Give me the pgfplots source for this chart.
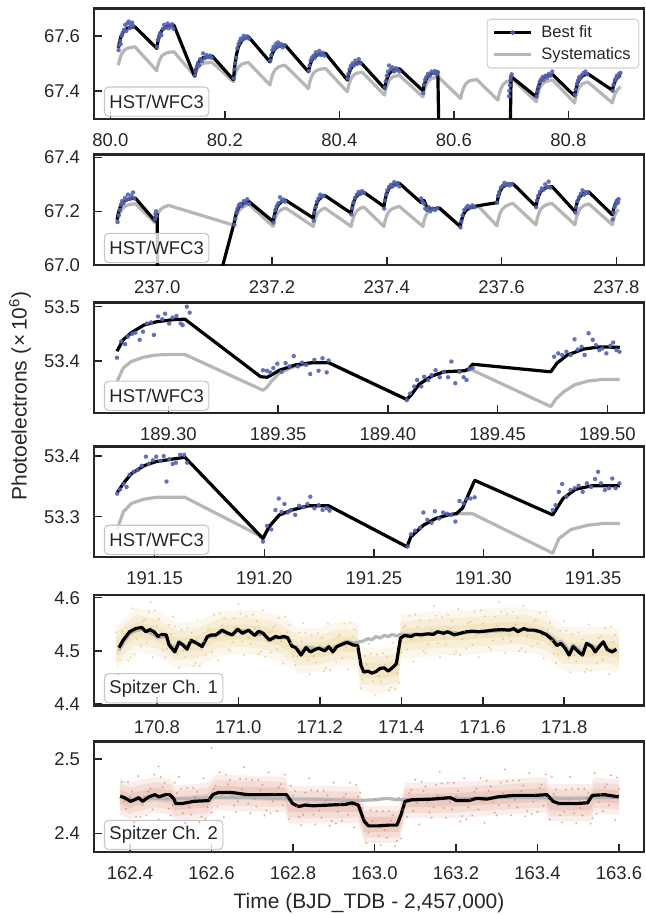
\documentclass[border=0pt]{standalone}
\usepackage{fontspec}
\setmainfont{Liberation Sans}
\usepackage{pgfplots}
\pgfplotsset{compat=1.18}
\definecolor{axcol}{RGB}{38,38,38}
\definecolor{hstblue}{RGB}{84,98,178}
\definecolor{sysgray}{RGB}{182,182,182}
\definecolor{ch1col}{RGB}{226,190,108}
\definecolor{ch2col}{RGB}{208,118,88}
\newcommand{\tickfont}{\fontsize{13.3}{16}\selectfont}
\newcommand{\labfont}{\fontsize{15.1}{18}\selectfont}
\newcommand{\legfont}{\fontsize{11.9}{14}\selectfont}
\pgfplotsset{
  panel/.style={
    scale only axis, width=396.1pt, height=79.56pt, anchor=north west,
    axis line style={line width=1.8pt, color=axcol, line cap=rect},
    tick align=inside, major tick length=5.8pt,
    every tick/.style={line width=1.1pt, color=axcol},
    xtick pos=bottom, ytick pos=left,
    tick label style={font=\tickfont, text=axcol},
    xticklabel style={yshift=-7.2pt},
    yticklabel style={xshift=-6.4pt},
    scaled ticks=false, minor tick num=0,
  },
  fit/.style={black, line width=2.3pt, line join=round},
  sys/.style={sysgray, line width=2.3pt, line join=round},
  hstpts/.style={only marks, mark=*, mark size=1.6pt, color=hstblue, mark options={draw opacity=0, fill opacity=0.9}},
  ch1pts/.style={only marks, mark=*, mark size=0.8pt, color=ch1col, mark options={draw opacity=0, fill opacity=0.7}},
  ch2pts/.style={only marks, mark=*, mark size=0.8pt, color=ch2col, mark options={draw opacity=0, fill opacity=0.6}},
}
\tikzset{lab/.style={anchor=south west, draw=gray!45, line width=0.8pt, rounded corners=3pt, fill=white, fill opacity=0.8, text opacity=1, inner xsep=3.6pt, inner ysep=0pt, minimum height=21pt, font=\tickfont, text=axcol, xshift=7.3pt, yshift=1.5pt}}
\begin{document}
\begin{tikzpicture}
\path[use as bounding box] (0,0) rectangle (464.4pt,658.8pt);
% ---------------- Panel 1
\begin{axis}[panel, at={(67.5pt,652.8pt)}, xmin=79.971, xmax=80.932, ymin=67.298, ymax=67.70,
  xtick={80.0,80.2,80.4,80.6,80.8}, xticklabels={80.0,80.2,80.4,80.6,80.8},
  ytick={67.4,67.6}, yticklabels={67.4,67.6},
  legend style={at={(1,1)}, anchor=north east, xshift=-3.2pt, yshift=-7.5pt, draw=gray!35, line width=0.8pt, rounded corners=2.5pt, fill=white, fill opacity=0.8, text opacity=1, draw opacity=1, font=\legfont, text=axcol, inner xsep=4pt, inner ysep=2.5pt, row sep=1.8pt, /tikz/every odd column/.append style={column sep=4.4pt}},
  legend cell align=left]
\addlegendimage{legend image code/.code={\draw[black, line width=2.3pt] (0pt,0pt) -- (26.4pt,0pt); \fill[hstblue] (13.2pt,0pt) circle (1.3pt);}}
\addlegendentry{Best fit}
\addlegendimage{legend image code/.code={\draw[sysgray, line width=2.3pt] (0pt,0pt) -- (26.4pt,0pt);}}
\addlegendentry{Systematics}
\addplot[sys, forget plot] coordinates {
(80.014,67.493)(80.016,67.512)(80.019,67.531)(80.023,67.545)(80.029,67.554)(80.036,67.558)(80.043,67.560)
(80.081,67.473)(80.083,67.493)(80.086,67.512)(80.090,67.527)(80.096,67.536)(80.103,67.540)(80.111,67.542)
(80.147,67.455)(80.149,67.468)(80.152,67.481)(80.156,67.492)(80.162,67.499)(80.169,67.502)(80.178,67.503)
(80.215,67.433)(80.217,67.453)(80.220,67.472)(80.224,67.487)(80.230,67.497)(80.236,67.501)(80.241,67.503)
(80.279,67.421)(80.281,67.442)(80.284,67.462)(80.288,67.477)(80.294,67.487)(80.300,67.491)(80.305,67.493)
(80.346,67.408)(80.348,67.429)(80.351,67.449)(80.355,67.465)(80.361,67.475)(80.368,67.479)(80.376,67.481)
(80.414,67.396)(80.416,67.417)(80.419,67.437)(80.423,67.453)(80.429,67.463)(80.440,67.468)
(80.479,67.384)(80.481,67.405)(80.484,67.425)(80.488,67.441)(80.494,67.451)(80.505,67.456)
(80.546,67.378)(80.548,67.399)(80.551,67.419)(80.555,67.435)(80.561,67.445)(80.573,67.450)
(80.612,67.372)(80.614,67.392)(80.617,67.411)(80.621,67.426)(80.627,67.436)(80.640,67.441)
(80.677,67.366)(80.679,67.387)(80.682,67.407)(80.686,67.423)(80.692,67.433)(80.705,67.438)
(80.744,67.360)(80.746,67.383)(80.749,67.405)(80.753,67.421)(80.759,67.432)(80.766,67.437)(80.773,67.439)
(80.811,67.356)(80.813,67.378)(80.816,67.400)(80.820,67.416)(80.826,67.427)(80.834,67.432)
(80.877,67.356)(80.879,67.373)(80.882,67.390)(80.886,67.404)(80.891,67.415)
};
\addplot[fit, forget plot] coordinates {
(80.014,67.556)(80.016,67.578)(80.019,67.600)(80.023,67.616)(80.029,67.627)(80.036,67.631)(80.043,67.633)
(80.081,67.554)(80.083,67.578)(80.086,67.602)(80.090,67.620)(80.096,67.632)(80.103,67.637)(80.111,67.639)
(80.147,67.453)(80.149,67.474)(80.152,67.494)(80.156,67.510)(80.162,67.520)(80.169,67.524)(80.178,67.526)
(80.215,67.440)(80.217,67.485)(80.220,67.529)(80.224,67.562)(80.230,67.584)(80.236,67.593)(80.241,67.597)
(80.279,67.505)(80.281,67.523)(80.284,67.540)(80.288,67.553)(80.294,67.562)(80.300,67.565)(80.305,67.567)
(80.346,67.469)(80.348,67.488)(80.351,67.507)(80.355,67.521)(80.361,67.530)(80.368,67.534)(80.376,67.536)
(80.414,67.439)(80.416,67.458)(80.419,67.476)(80.423,67.490)(80.429,67.499)(80.437,67.504)
(80.479,67.408)(80.481,67.429)(80.484,67.449)(80.488,67.465)(80.494,67.475)(80.505,67.480)
(80.546,67.400)(80.548,67.420)(80.551,67.439)(80.555,67.454)(80.561,67.463)(80.572,67.468)
(80.577,66.900)(80.696,66.900)(80.700,67.452)
(80.744,67.378)(80.746,67.401)(80.749,67.423)(80.753,67.440)(80.759,67.451)(80.766,67.456)(80.773,67.458)
(80.811,67.381)(80.813,67.404)(80.816,67.427)(80.820,67.445)(80.826,67.456)(80.834,67.462)
(80.877,67.402)(80.879,67.419)(80.882,67.436)(80.886,67.449)(80.891,67.457)
};
\addplot[hstpts, forget plot] coordinates {
(80.0145,67.548)(80.015,67.565)(80.017,67.582)(80.018,67.570)(80.020,67.600)(80.022,67.612)(80.024,67.622)(80.026,67.640)(80.028,67.618)(80.030,67.645)(80.032,67.652)(80.034,67.628)(80.036,67.640)(80.038,67.648)(80.040,67.636)
(80.0815,67.560)(80.083,67.585)(80.085,67.598)(80.087,67.610)(80.089,67.602)(80.092,67.625)(80.094,67.640)(80.097,67.630)(80.100,67.645)(80.102,67.628)(80.105,67.636)(80.108,67.642)(80.110,67.626)
(80.1475,67.455)(80.149,67.470)(80.151,67.485)(80.153,67.500)(80.155,67.492)(80.157,67.515)(80.160,67.508)(80.162,67.536)(80.165,67.518)(80.168,67.530)(80.171,67.522)(80.174,67.528)(80.177,67.520)
(80.2155,67.445)(80.217,67.478)(80.218,67.500)(80.220,67.520)(80.222,67.555)(80.224,67.570)(80.226,67.580)(80.228,67.590)(80.231,67.586)(80.233,67.600)(80.236,67.592)(80.239,67.598)(80.242,67.590)
(80.2795,67.510)(80.281,67.530)(80.283,67.548)(80.285,67.560)(80.287,67.552)(80.289,67.570)(80.291,67.560)(80.293,67.576)(80.296,67.564)(80.298,67.570)(80.301,67.558)(80.304,67.565)
(80.3465,67.472)(80.348,67.492)(80.350,67.510)(80.352,67.520)(80.355,67.528)(80.357,67.520)(80.359,67.540)(80.362,67.532)(80.365,67.545)(80.368,67.530)(80.371,67.538)(80.374,67.528)
(80.4145,67.445)(80.416,67.462)(80.418,67.478)(80.420,67.490)(80.423,67.500)(80.425,67.492)(80.428,67.510)(80.431,67.498)(80.434,67.515)(80.437,67.500)
(80.4795,67.412)(80.481,67.435)(80.483,67.455)(80.485,67.470)(80.487,67.492)(80.490,67.478)(80.493,67.485)(80.496,67.470)(80.499,67.482)(80.502,67.475)(80.505,67.470)
(80.5465,67.392)(80.548,67.422)(80.550,67.440)(80.552,67.450)(80.555,67.462)(80.558,67.455)(80.561,67.470)(80.564,67.465)(80.567,67.472)(80.570,67.460)(80.572,67.468)
(80.6965,67.38)(80.697,67.40)(80.698,67.42)(80.699,67.44)(80.700,67.452)(80.701,67.46)
(80.7445,67.380)(80.746,67.398)(80.748,67.415)(80.750,67.432)(80.752,67.440)(80.755,67.450)(80.757,67.440)(80.760,67.455)(80.763,67.448)(80.766,67.462)(80.769,67.455)(80.772,67.470)
(80.8115,67.385)(80.813,67.405)(80.815,67.425)(80.817,67.438)(80.819,67.450)(80.821,67.445)(80.824,67.458)(80.827,67.465)(80.830,67.470)(80.833,67.460)
(80.8775,67.400)(80.879,67.422)(80.881,67.438)(80.883,67.445)(80.885,67.455)(80.887,67.450)(80.889,67.462)(80.891,67.465)
};
\node[lab] at (rel axis cs:0,0) {HST/WFC3};
\end{axis}
% ---------------- Panel 2
\begin{axis}[panel, at={(67.5pt,547.4pt)}, xmin=236.8895, xmax=237.848, ymin=67.0, ymax=67.41,
  xtick={237.0,237.2,237.4,237.6,237.8}, xticklabels={237.0,237.2,237.4,237.6,237.8},
  ytick={67.0,67.2,67.4}, yticklabels={67.0,67.2,67.4}]
\addplot[sys] coordinates {
(236.930,67.160)(236.932,67.177)(236.935,67.195)(236.939,67.210)(236.945,67.220)(236.953,67.226)(236.962,67.228)
(236.996,67.158)(236.998,67.172)(237.001,67.190)(237.005,67.205)(237.011,67.215)(237.020,67.222)
(237.134,67.148)(237.136,67.168)(237.139,67.188)(237.143,67.204)(237.149,67.215)(237.155,67.222)(237.160,67.226)
(237.202,67.144)(237.204,67.163)(237.207,67.182)(237.211,67.197)(237.217,67.207)(237.224,67.212)
(237.272,67.144)(237.274,67.163)(237.277,67.182)(237.281,67.197)(237.287,67.207)(237.292,67.212)
(237.338,67.144)(237.340,67.164)(237.343,67.184)(237.347,67.200)(237.353,67.210)(237.360,67.216)
(237.395,67.144)(237.397,67.164)(237.400,67.184)(237.404,67.200)(237.410,67.210)(237.417,67.215)(237.422,67.218)
(237.463,67.144)(237.465,67.164)(237.468,67.184)(237.472,67.198)(237.478,67.207)(237.490,67.212)
(237.528,67.144)(237.530,67.164)(237.533,67.184)(237.537,67.200)(237.543,67.210)(237.552,67.216)(237.560,67.218)
(237.592,67.146)(237.594,67.168)(237.597,67.190)(237.601,67.207)(237.607,67.219)(237.614,67.226)(237.620,67.229)
(237.660,67.150)(237.662,67.172)(237.665,67.193)(237.669,67.210)(237.675,67.221)(237.682,67.227)(237.688,67.229)
(237.728,67.150)(237.730,67.172)(237.733,67.193)(237.737,67.210)(237.743,67.221)(237.752,67.228)
(237.793,67.150)(237.795,67.170)(237.798,67.188)(237.801,67.200)(237.804,67.207)
};
\addplot[fit] coordinates {
(236.930,67.169)(236.932,67.190)(236.935,67.212)(236.939,67.230)(236.945,67.241)(236.953,67.247)(236.962,67.249)
(236.996,67.165)(236.998,67.182)(237.000,67.190)(237.002,66.500)(237.030,66.330)
(237.134,67.156)(237.136,67.179)(237.139,67.201)(237.143,67.218)(237.149,67.229)(237.155,67.234)(237.160,67.236)
(237.202,67.162)(237.204,67.185)(237.207,67.207)(237.211,67.224)(237.217,67.236)(237.224,67.241)
(237.272,67.175)(237.274,67.200)(237.277,67.224)(237.281,67.242)(237.287,67.254)(237.292,67.259)
(237.338,67.193)(237.340,67.216)(237.343,67.238)(237.347,67.255)(237.353,67.266)(237.360,67.271)
(237.395,67.218)(237.397,67.243)(237.400,67.267)(237.404,67.285)(237.410,67.297)(237.417,67.302)(237.422,67.304)
(237.460,67.232)(237.465,67.240)(237.470,67.215)(237.480,67.208)(237.492,67.212)
(237.528,67.144)(237.530,67.165)(237.533,67.186)(237.537,67.202)(237.543,67.212)(237.552,67.218)(237.560,67.221)
(237.592,67.232)(237.594,67.252)(237.597,67.272)(237.601,67.288)(237.607,67.297)(237.614,67.301)(237.620,67.302)
(237.660,67.218)(237.662,67.239)(237.665,67.259)(237.669,67.275)(237.675,67.285)(237.682,67.290)(237.688,67.292)
(237.728,67.199)(237.730,67.220)(237.733,67.241)(237.737,67.256)(237.743,67.266)(237.752,67.272)
(237.793,67.187)(237.795,67.207)(237.798,67.226)(237.801,67.240)(237.804,67.246)
};
\addplot[hstpts] coordinates {
(236.931,67.160)(236.933,67.185)(236.935,67.205)(236.937,67.225)(236.939,67.238)(236.941,67.230)(236.944,67.250)(236.946,67.242)(236.949,67.262)(236.952,67.245)(236.955,67.258)(236.958,67.270)(236.960,67.248)
(236.996,67.170)(236.997,67.190)(236.998,67.200)(236.999,67.182)
(237.1345,67.150)(237.136,67.172)(237.138,67.195)(237.140,67.210)(237.142,67.222)(237.145,67.228)(237.148,67.220)(237.151,67.238)(237.154,67.232)(237.157,67.245)(237.160,67.228)
(237.2025,67.158)(237.204,67.180)(237.206,67.205)(237.208,67.218)(237.211,67.230)(237.214,67.252)(237.217,67.238)(237.220,67.244)(237.223,67.236)
(237.2725,67.165)(237.274,67.195)(237.276,67.215)(237.278,67.235)(237.281,67.248)(237.284,67.262)(237.287,67.255)(237.290,67.258)
(237.3385,67.188)(237.340,67.212)(237.342,67.232)(237.345,67.250)(237.348,67.262)(237.351,67.272)(237.354,67.265)(237.357,67.275)(237.360,67.268)
(237.3955,67.210)(237.397,67.240)(237.399,67.262)(237.401,67.278)(237.404,67.290)(237.407,67.298)(237.410,67.292)(237.413,67.308)(237.416,67.298)(237.419,67.305)(237.422,67.292)
(237.460,67.248)(237.462,67.235)(237.465,67.228)(237.467,67.210)(237.470,67.205)(237.473,67.215)(237.476,67.200)(237.480,67.210)(237.484,67.205)(237.488,67.212)
(237.5285,67.140)(237.530,67.162)(237.532,67.185)(237.535,67.205)(237.538,67.212)(237.541,67.220)(237.545,67.215)(237.549,67.222)(237.553,67.215)
(237.5925,67.232)(237.594,67.258)(237.596,67.272)(237.599,67.288)(237.602,67.295)(237.605,67.306)(237.608,67.298)(237.611,67.302)(237.614,67.296)(237.618,67.300)
(237.6605,67.215)(237.662,67.240)(237.664,67.258)(237.667,67.272)(237.670,67.285)(237.673,67.280)(237.676,67.300)(237.679,67.290)(237.682,67.310)(237.685,67.288)
(237.7285,67.195)(237.730,67.215)(237.732,67.238)(237.735,67.252)(237.738,67.265)(237.741,67.278)(237.744,67.262)(237.747,67.272)(237.750,67.268)
(237.7935,67.170)(237.795,67.195)(237.797,67.215)(237.799,67.225)(237.801,67.238)(237.803,67.232)(237.804,67.245)
};
\node[lab] at (rel axis cs:0,0) {HST/WFC3};
\end{axis}
% ---------------- Panel 3
\begin{axis}[panel, at={(67.5pt,441.0pt)}, xmin=189.266, xmax=189.5166, ymin=53.3042, ymax=53.5077,
  xtick={189.30,189.35,189.40,189.45,189.50}, xticklabels={189.30,189.35,189.40,189.45,189.50},
  ytick={53.4,53.5}, yticklabels={53.4,53.5}]
\addplot[sys] coordinates {
(189.2766,53.362)(189.2794,53.387)(189.2831,53.399)(189.2888,53.407)(189.2944,53.411)(189.3019,53.412)(189.3075,53.412)
(189.3431,53.346)(189.3450,53.352)(189.3468,53.362)(189.3506,53.378)(189.3581,53.391)(189.3655,53.396)(189.3730,53.396)
(189.4086,53.329)(189.4105,53.337)(189.4142,53.357)(189.4199,53.372)(189.4255,53.380)(189.4348,53.382)(189.4380,53.384)
(189.4742,53.316)(189.4765,53.330)(189.4800,53.343)(189.4850,53.356)(189.4910,53.363)(189.4980,53.366)(189.5056,53.366)
};
\addplot[fit] coordinates {
(189.2766,53.418)(189.2794,53.439)(189.2831,53.452)(189.2888,53.466)(189.2944,53.472)(189.3019,53.476)(189.3075,53.477)
(189.3420,53.371)(189.3450,53.370)(189.3468,53.374)(189.3506,53.383)(189.3581,53.393)(189.3655,53.397)(189.3730,53.397)
(189.4086,53.329)(189.4105,53.337)(189.4142,53.357)(189.4199,53.372)(189.4255,53.380)(189.4348,53.382)(189.4367,53.385)(189.4386,53.394)
(189.4742,53.380)(189.4770,53.396)(189.4817,53.411)(189.4892,53.422)(189.4967,53.426)(189.5056,53.425)
};
\addplot[hstpts] coordinates {
(189.2766,53.406)(189.2785,53.436)(189.2803,53.431)(189.2816,53.445)(189.2835,53.450)(189.2850,53.452)(189.2869,53.439)(189.2884,53.454)(189.2902,53.469)(189.2921,53.471)(189.2934,53.448)(189.2953,53.482)(189.2972,53.477)(189.2985,53.487)(189.3004,53.469)(189.3019,53.480)(189.3037,53.483)(189.3056,53.469)(189.3065,53.466)(189.3084,53.500)(189.3097,53.489)
(189.3431,53.383)(189.3449,53.382)(189.3464,53.379)(189.3478,53.387)(189.3496,53.395)(189.3515,53.380)(189.3534,53.396)(189.3552,53.390)(189.3571,53.409)(189.3590,53.390)(189.3609,53.397)(189.3627,53.393)(189.3646,53.376)(189.3665,53.402)(189.3684,53.382)(189.3702,53.405)(189.3721,53.379)(189.3730,53.401)
(189.4086,53.328)(189.4101,53.340)(189.4120,53.353)(189.4133,53.365)(189.4152,53.353)(189.4165,53.371)(189.4184,53.365)(189.4199,53.374)(189.4217,53.383)(189.4236,53.370)(189.4255,53.380)(189.4274,53.370)(189.4289,53.399)(189.4307,53.359)(189.4326,53.380)(189.4345,53.370)(189.4358,53.365)(189.4371,53.385)(189.4386,53.387)
(189.4757,53.408)(189.4776,53.414)(189.4794,53.411)(189.4813,53.417)(189.4832,53.411)(189.4850,53.440)(189.4864,53.421)(189.4882,53.426)(189.4896,53.411)(189.4914,53.451)(189.4933,53.439)(189.4948,53.429)(189.4963,53.420)(189.4976,53.423)(189.4995,53.414)(189.5013,53.428)(189.5026,53.434)(189.5041,53.420)(189.5055,53.417)
};
\node[lab] at (rel axis cs:0,0) {HST/WFC3};
\end{axis}
% ---------------- Panel 4
\begin{axis}[panel, at={(67.5pt,337.3pt)}, xmin=191.1222, xmax=191.3732, ymin=53.2336, ymax=53.4157,
  xtick={191.15,191.20,191.25,191.30,191.35}, xticklabels={191.15,191.20,191.25,191.30,191.35},
  ytick={53.3,53.4}, yticklabels={53.3,53.4}]
\addplot[sys] coordinates {
(191.1329,53.279)(191.1357,53.308)(191.1394,53.322)(191.1451,53.329)(191.1507,53.332)(191.1582,53.332)(191.1638,53.332)
(191.1994,53.266)(191.2023,53.284)(191.2069,53.303)(191.2126,53.311)(191.2201,53.318)(191.2294,53.318)
(191.2651,53.2505)(191.2669,53.267)(191.2726,53.286)(191.2782,53.297)(191.2838,53.303)(191.2876,53.305)(191.2950,53.305)
(191.3316,53.240)(191.3344,53.264)(191.3400,53.279)(191.3475,53.286)(191.3550,53.289)(191.3622,53.289)
};
\addplot[fit] coordinates {
(191.1329,53.3396)(191.1357,53.355)(191.1394,53.371)(191.1451,53.384)(191.1507,53.391)(191.1582,53.395)(191.1638,53.398)
(191.1994,53.264)(191.2023,53.284)(191.2069,53.303)(191.2126,53.311)(191.2201,53.318)(191.2294,53.318)
(191.2651,53.2505)(191.2669,53.267)(191.2726,53.286)(191.2782,53.297)(191.2838,53.303)(191.2876,53.305)(191.2904,53.314)(191.2960,53.360)
(191.3316,53.303)(191.3335,53.314)(191.3363,53.330)(191.3419,53.345)(191.3494,53.351)(191.3622,53.351)
};
\addplot[hstpts] coordinates {
(191.1329,53.338)(191.1342,53.345)(191.1357,53.354)(191.1372,53.349)(191.1385,53.369)(191.1404,53.374)(191.1423,53.377)(191.1441,53.384)(191.1460,53.399)(191.1473,53.387)(191.1492,53.393)(191.1507,53.399)(191.1526,53.392)(191.1541,53.400)(191.1554,53.358)(191.1567,53.395)(191.1582,53.387)(191.1597,53.389)(191.1616,53.402)(191.1634,53.402)(191.1648,53.389)
(191.1994,53.259)(191.2013,53.285)(191.2032,53.279)(191.2051,53.311)(191.2066,53.330)(191.2079,53.308)(191.2092,53.321)(191.2107,53.307)(191.2122,53.311)(191.2141,53.303)(191.2159,53.318)(191.2178,53.316)(191.2197,53.321)(191.2210,53.333)(191.2229,53.314)(191.2248,53.319)(191.2266,53.311)(191.2285,53.314)(191.2298,53.310)
(191.2654,53.251)(191.2669,53.271)(191.2688,53.277)(191.2711,53.282)(191.2726,53.307)(191.2744,53.295)(191.2763,53.290)(191.2778,53.309)(191.2797,53.297)(191.2816,53.307)(191.2834,53.305)(191.2853,53.303)(191.2872,53.292)(191.2891,53.326)(191.2909,53.322)(191.2923,53.329)(191.2941,53.330)(191.2960,53.332)
(191.3316,53.311)(191.3329,53.319)(191.3344,53.341)(191.3359,53.354)(191.3378,53.333)(191.3397,53.344)(191.3416,53.347)(191.3434,53.351)(191.3453,53.341)(191.3472,53.355)(191.3491,53.349)(191.3509,53.362)(191.3523,53.374)(191.3536,53.355)(191.3554,53.344)(191.3573,53.347)(191.3588,53.363)(191.3603,53.347)(191.3620,53.355)
};
\node[lab] at (rel axis cs:0,0) {HST/WFC3};
\end{axis}
% ---------------- Panel 5
\begin{axis}[panel, at={(67.5pt,230.4pt)}, xmin=170.645, xmax=171.9956, ymin=4.3972, ymax=4.6051,
  xtick={170.8,171.0,171.2,171.4,171.6,171.8}, xticklabels={170.8,171.0,171.2,171.4,171.6,171.8},
  ytick={4.4,4.5,4.6}, yticklabels={4.4,4.5,4.6}]
\addplot[draw=none, fill=ch1col, fill opacity=0.12] coordinates {
(170.700,4.547)(170.720,4.564)(170.750,4.582)(170.800,4.574)(170.850,4.552)(170.900,4.556)(170.950,4.574)(171.000,4.578)(171.050,4.575)(171.100,4.566)(171.150,4.542)(171.200,4.544)(171.250,4.555)(171.292,4.553)(171.300,4.507)(171.350,4.504)(171.392,4.510)(171.400,4.569)(171.450,4.572)(171.500,4.576)(171.550,4.576)(171.600,4.579)(171.650,4.582)(171.700,4.582)(171.750,4.573)(171.800,4.546)(171.850,4.544)(171.900,4.547)(171.935,4.542)
(171.935,4.458)(171.900,4.463)(171.850,4.460)(171.800,4.462)(171.750,4.489)(171.700,4.498)(171.650,4.498)(171.600,4.495)(171.550,4.492)(171.500,4.492)(171.450,4.488)(171.400,4.485)(171.392,4.426)(171.350,4.420)(171.300,4.423)(171.292,4.469)(171.250,4.471)(171.200,4.460)(171.150,4.458)(171.100,4.482)(171.050,4.491)(171.000,4.494)(170.950,4.490)(170.900,4.472)(170.850,4.468)(170.800,4.490)(170.750,4.498)(170.720,4.480)(170.700,4.463)
};
\addplot[draw=none, fill=ch1col, fill opacity=0.16] coordinates {
(170.700,4.533)(170.720,4.550)(170.750,4.568)(170.800,4.560)(170.850,4.538)(170.900,4.542)(170.950,4.560)(171.000,4.564)(171.050,4.561)(171.100,4.552)(171.150,4.528)(171.200,4.530)(171.250,4.541)(171.292,4.539)(171.300,4.493)(171.350,4.490)(171.392,4.496)(171.400,4.555)(171.450,4.558)(171.500,4.562)(171.550,4.562)(171.600,4.565)(171.650,4.568)(171.700,4.568)(171.750,4.559)(171.800,4.532)(171.850,4.530)(171.900,4.533)(171.935,4.528)
(171.935,4.472)(171.900,4.477)(171.850,4.474)(171.800,4.476)(171.750,4.503)(171.700,4.512)(171.650,4.512)(171.600,4.509)(171.550,4.506)(171.500,4.506)(171.450,4.502)(171.400,4.499)(171.392,4.440)(171.350,4.434)(171.300,4.437)(171.292,4.483)(171.250,4.485)(171.200,4.474)(171.150,4.472)(171.100,4.496)(171.050,4.505)(171.000,4.508)(170.950,4.504)(170.900,4.486)(170.850,4.482)(170.800,4.504)(170.750,4.512)(170.720,4.494)(170.700,4.477)
};
\addplot[draw=none, fill=ch1col, fill opacity=0.2] coordinates {
(170.700,4.519)(170.720,4.536)(170.750,4.554)(170.800,4.546)(170.850,4.524)(170.900,4.528)(170.950,4.546)(171.000,4.550)(171.050,4.547)(171.100,4.538)(171.150,4.514)(171.200,4.516)(171.250,4.527)(171.292,4.525)(171.300,4.479)(171.350,4.476)(171.392,4.482)(171.400,4.541)(171.450,4.544)(171.500,4.548)(171.550,4.548)(171.600,4.551)(171.650,4.554)(171.700,4.554)(171.750,4.545)(171.800,4.518)(171.850,4.516)(171.900,4.519)(171.935,4.514)
(171.935,4.486)(171.900,4.491)(171.850,4.488)(171.800,4.490)(171.750,4.517)(171.700,4.526)(171.650,4.526)(171.600,4.523)(171.550,4.520)(171.500,4.520)(171.450,4.516)(171.400,4.513)(171.392,4.454)(171.350,4.448)(171.300,4.451)(171.292,4.497)(171.250,4.499)(171.200,4.488)(171.150,4.486)(171.100,4.510)(171.050,4.519)(171.000,4.522)(170.950,4.518)(170.900,4.500)(170.850,4.496)(170.800,4.518)(170.750,4.526)(170.720,4.508)(170.700,4.491)
};
\addplot[ch1pts] coordinates {
(170.700,4.535)(170.710,4.483)(170.720,4.530)(170.730,4.482)(170.740,4.580)(170.750,4.523)(170.760,4.509)(170.770,4.559)(170.780,4.574)(170.790,4.488)(170.800,4.547)(170.810,4.527)(170.820,4.488)(170.830,4.549)(170.840,4.564)(170.850,4.494)(170.860,4.540)(170.870,4.488)(170.880,4.520)(170.890,4.472)(170.900,4.559)(170.910,4.502)(170.920,4.492)(170.930,4.542)(170.940,4.568)(170.950,4.482)(170.960,4.548)(170.970,4.528)(170.980,4.500)(170.990,4.561)
(171.000,4.588)(171.010,4.518)(171.020,4.565)(171.030,4.513)(171.040,4.542)(171.050,4.494)(171.060,4.576)(171.070,4.519)(171.080,4.497)(171.090,4.547)(171.100,4.562)(171.110,4.476)(171.120,4.535)(171.130,4.515)(171.140,4.473)(171.150,4.534)(171.160,4.552)(171.170,4.482)(171.180,4.530)(171.190,4.478)(171.200,4.510)(171.210,4.462)(171.220,4.551)(171.230,4.494)(171.240,4.480)(171.250,4.530)(171.260,4.551)(171.270,4.465)(171.280,4.527)(171.290,4.507)
(171.300,4.430)(171.310,4.491)(171.320,4.513)(171.330,4.443)(171.340,4.493)(171.350,4.441)(171.360,4.474)(171.370,4.426)(171.380,4.515)(171.390,4.458)(171.400,4.497)(171.410,4.547)(171.420,4.566)(171.430,4.480)(171.440,4.545)(171.450,4.525)(171.460,4.496)(171.470,4.557)(171.480,4.584)(171.490,4.514)(171.500,4.564)(171.510,4.512)(171.520,4.542)(171.530,4.494)(171.540,4.579)(171.550,4.522)(171.560,4.505)(171.570,4.555)(171.580,4.574)(171.590,4.488)
(171.600,4.552)(171.610,4.532)(171.620,4.503)(171.630,4.564)(171.640,4.592)(171.650,4.522)(171.660,4.570)(171.670,4.518)(171.680,4.548)(171.690,4.500)(171.700,4.585)(171.710,4.528)(171.720,4.508)(171.730,4.558)(171.740,4.572)(171.750,4.486)(171.760,4.540)(171.770,4.520)(171.780,4.477)(171.790,4.538)(171.800,4.556)(171.810,4.486)(171.820,4.532)(171.830,4.480)(171.840,4.508)(171.850,4.460)(171.860,4.550)(171.870,4.493)(171.880,4.477)(171.890,4.527)(171.900,4.543)(171.910,4.457)(171.920,4.517)(171.930,4.497)
(170.785,4.592)(171.395,4.440)(170.705,4.455)
(170.705,4.495)(170.715,4.538)(170.725,4.544)(170.735,4.487)(170.745,4.493)(170.755,4.539)(170.765,4.556)(170.775,4.515)(170.785,4.530)(170.795,4.576)(170.805,4.560)(170.815,4.502)(170.825,4.504)(170.835,4.532)(170.845,4.546)(170.855,4.468)(170.865,4.500)(170.875,4.543)(170.885,4.534)(170.895,4.477)(170.905,4.472)(170.915,4.518)(170.925,4.539)(170.935,4.498)(170.945,4.524)(170.955,4.570)(170.965,4.561)(170.975,4.503)(170.985,4.516)(170.995,4.544)
(171.005,4.570)(171.015,4.492)(171.025,4.525)(171.035,4.568)(171.045,4.556)(171.055,4.499)(171.065,4.489)(171.075,4.535)(171.085,4.544)(171.095,4.503)(171.105,4.518)(171.115,4.564)(171.125,4.548)(171.135,4.490)(171.145,4.489)(171.155,4.517)(171.165,4.534)(171.175,4.456)(171.185,4.490)(171.195,4.533)(171.205,4.524)(171.215,4.467)(171.225,4.464)(171.235,4.510)(171.245,4.527)(171.255,4.486)(171.265,4.507)(171.275,4.553)(171.285,4.540)(171.295,4.482)
(171.305,4.446)(171.315,4.474)(171.325,4.495)(171.335,4.417)(171.345,4.453)(171.355,4.496)(171.365,4.488)(171.375,4.431)(171.385,4.428)(171.395,4.474)(171.405,4.544)(171.415,4.503)(171.425,4.522)(171.435,4.568)(171.445,4.558)(171.455,4.500)(171.465,4.512)(171.475,4.540)(171.485,4.566)(171.495,4.488)(171.505,4.524)(171.515,4.567)(171.525,4.556)(171.535,4.499)(171.545,4.492)(171.555,4.538)(171.565,4.552)(171.575,4.511)(171.585,4.530)(171.595,4.576)
(171.605,4.565)(171.615,4.507)(171.625,4.519)(171.635,4.547)(171.645,4.574)(171.655,4.496)(171.665,4.530)(171.675,4.573)(171.685,4.562)(171.695,4.505)(171.705,4.498)(171.715,4.544)(171.725,4.555)(171.735,4.514)(171.745,4.528)(171.755,4.574)(171.765,4.553)(171.775,4.495)(171.785,4.493)(171.795,4.521)(171.805,4.538)(171.815,4.460)(171.825,4.492)(171.835,4.535)(171.845,4.522)(171.855,4.465)(171.865,4.463)(171.875,4.509)(171.885,4.524)(171.895,4.483)(171.905,4.499)(171.915,4.545)(171.925,4.530)
};
\addplot[sys] coordinates {
(170.707,4.500)(170.717,4.515)(170.733,4.532)(170.748,4.538)(170.763,4.540)(170.783,4.535)(170.803,4.525)(170.823,4.527)(170.830,4.514)(170.844,4.504)(170.854,4.518)(170.874,4.507)(170.884,4.518)(170.899,4.513)(170.911,4.510)(170.924,4.525)(170.945,4.529)(170.960,4.536)(170.985,4.530)(170.998,4.538)(171.025,4.537)(171.040,4.530)(171.061,4.532)(171.076,4.522)(171.101,4.525)(171.121,4.524)(171.131,4.511)(171.154,4.498)(171.166,4.508)(171.187,4.505)(171.212,4.505)(171.232,4.505)(171.254,4.514)(171.267,4.518)(171.282,4.515)(171.293,4.516)(171.308,4.519)(171.318,4.523)(171.328,4.521)(171.338,4.527)(171.348,4.524)(171.358,4.529)(171.368,4.527)(171.378,4.531)(171.388,4.528)(171.398,4.531)(171.408,4.531)(171.434,4.531)(171.464,4.532)(171.489,4.535)(171.514,4.535)(171.545,4.533)(171.575,4.536)(171.605,4.536)(171.646,4.538)(171.676,4.540)(171.701,4.540)(171.726,4.538)(171.741,4.536)(171.757,4.532)(171.772,4.524)(171.782,4.515)(171.792,4.518)(171.802,4.510)(171.812,4.498)(171.822,4.511)(171.835,4.503)(171.845,4.497)(171.855,4.515)(171.868,4.510)(171.876,4.503)(171.888,4.512)(171.896,4.515)(171.906,4.504)(171.918,4.500)(171.928,4.504)
};
\addplot[fit] coordinates {
(170.707,4.506)(170.717,4.520)(170.733,4.536)(170.748,4.542)(170.763,4.544)(170.773,4.536)(170.783,4.540)(170.793,4.536)(170.803,4.527)(170.813,4.531)(170.823,4.530)(170.830,4.511)(170.844,4.498)(170.854,4.516)(170.864,4.511)(170.874,4.503)(170.884,4.520)(170.899,4.514)(170.911,4.508)(170.924,4.527)(170.934,4.530)(170.945,4.530)(170.960,4.539)(170.975,4.533)(170.985,4.530)(170.998,4.541)(171.010,4.533)(171.025,4.539)(171.040,4.529)(171.050,4.537)(171.061,4.533)(171.076,4.520)(171.091,4.527)(171.101,4.525)(171.111,4.527)(171.121,4.525)(171.131,4.509)(171.141,4.506)(171.154,4.492)(171.166,4.506)(171.177,4.498)(171.187,4.502)(171.197,4.505)(171.212,4.500)(171.222,4.508)(171.232,4.498)(171.242,4.508)(171.254,4.512)(171.267,4.516)(171.282,4.511)(171.293,4.510)
(171.301,4.473)(171.308,4.460)(171.318,4.462)(171.328,4.458)(171.338,4.461)(171.348,4.467)(171.358,4.468)(171.368,4.462)(171.378,4.468)(171.388,4.476)
(171.398,4.524)(171.408,4.529)(171.424,4.527)(171.434,4.531)(171.449,4.530)(171.464,4.532)(171.479,4.531)(171.489,4.536)(171.504,4.533)(171.514,4.536)(171.530,4.530)(171.545,4.533)(171.560,4.536)(171.575,4.537)(171.590,4.536)(171.605,4.537)(171.625,4.539)(171.646,4.540)(171.666,4.539)(171.676,4.542)(171.686,4.536)(171.701,4.542)(171.711,4.539)(171.726,4.539)(171.741,4.536)(171.757,4.530)(171.772,4.520)(171.782,4.510)(171.792,4.514)(171.802,4.505)(171.812,4.492)(171.822,4.508)(171.835,4.498)(171.845,4.492)(171.855,4.514)(171.868,4.508)(171.876,4.498)(171.888,4.510)(171.896,4.517)(171.906,4.502)(171.918,4.498)(171.928,4.503)
};
\node[lab] at (rel axis cs:0,0) {Spitzer Ch. 1};
\end{axis}
% ---------------- Panel 6
\begin{axis}[panel, at={(67.5pt,124.8pt)}, xmin=162.311, xmax=163.661, ymin=2.3746, ymax=2.5233,
  xtick={162.4,162.6,162.8,163.0,163.2,163.4,163.6}, xticklabels={162.4,162.6,162.8,163.0,163.2,163.4,163.6},
  ytick={2.4,2.5}, yticklabels={2.4,2.5}]
\addplot[draw=none, fill=ch2col, fill opacity=0.12] coordinates {
(162.375,2.474)(162.40,2.468)(162.42,2.471)(162.46,2.476)(162.50,2.473)(162.51,2.464)(162.59,2.468)(162.61,2.479)(162.78,2.476)(162.79,2.464)(162.96,2.463)(162.975,2.437)(163.06,2.437)(163.075,2.468)(163.20,2.469)(163.42,2.476)(163.43,2.466)(163.53,2.466)(163.54,2.475)(163.60,2.473)
(163.60,2.425)(163.54,2.427)(163.53,2.416)(163.43,2.416)(163.42,2.428)(163.20,2.421)(163.075,2.420)(163.06,2.387)(162.975,2.387)(162.96,2.414)(162.79,2.413)(162.78,2.428)(162.61,2.431)(162.59,2.420)(162.51,2.416)(162.50,2.425)(162.46,2.428)(162.42,2.423)(162.40,2.419)(162.375,2.425)
};
\addplot[draw=none, fill=ch2col, fill opacity=0.15] coordinates {
(162.375,2.467)(162.40,2.461)(162.42,2.464)(162.46,2.469)(162.50,2.466)(162.51,2.457)(162.59,2.461)(162.61,2.472)(162.78,2.469)(162.79,2.457)(162.96,2.456)(162.975,2.430)(163.06,2.430)(163.075,2.461)(163.20,2.462)(163.42,2.469)(163.43,2.459)(163.53,2.459)(163.54,2.468)(163.60,2.466)
(163.60,2.432)(163.54,2.434)(163.53,2.423)(163.43,2.423)(163.42,2.435)(163.20,2.428)(163.075,2.427)(163.06,2.394)(162.975,2.394)(162.96,2.421)(162.79,2.420)(162.78,2.435)(162.61,2.438)(162.59,2.427)(162.51,2.423)(162.50,2.432)(162.46,2.435)(162.42,2.430)(162.40,2.426)(162.375,2.432)
};
\addplot[draw=none, fill=ch2col, fill opacity=0.18] coordinates {
(162.375,2.459)(162.40,2.453)(162.42,2.456)(162.46,2.461)(162.50,2.458)(162.51,2.449)(162.59,2.453)(162.61,2.464)(162.78,2.461)(162.79,2.449)(162.96,2.448)(162.975,2.422)(163.06,2.422)(163.075,2.453)(163.20,2.454)(163.42,2.461)(163.43,2.451)(163.53,2.451)(163.54,2.460)(163.60,2.458)
(163.60,2.440)(163.54,2.442)(163.53,2.431)(163.43,2.431)(163.42,2.443)(163.20,2.436)(163.075,2.435)(163.06,2.402)(162.975,2.402)(162.96,2.429)(162.79,2.428)(162.78,2.443)(162.61,2.446)(162.59,2.435)(162.51,2.431)(162.50,2.440)(162.46,2.443)(162.42,2.438)(162.40,2.434)(162.375,2.440)
};
\addplot[ch2pts] coordinates {
(162.380,2.469)(162.390,2.433)(162.400,2.449)(162.410,2.415)(162.420,2.477)(162.430,2.438)(162.440,2.424)(162.450,2.460)(162.460,2.479)(162.470,2.419)(162.480,2.462)(162.490,2.447)(162.500,2.424)(162.510,2.468)(162.520,2.476)(162.530,2.427)(162.540,2.461)(162.550,2.425)(162.560,2.449)(162.570,2.415)(162.580,2.474)(162.590,2.435)(162.600,2.428)(162.610,2.464)(162.620,2.482)(162.630,2.422)(162.640,2.466)(162.650,2.451)(162.660,2.429)(162.670,2.473)
(162.680,2.489)(162.690,2.440)(162.700,2.472)(162.710,2.436)(162.720,2.458)(162.730,2.424)(162.740,2.482)(162.750,2.443)(162.760,2.430)(162.770,2.466)(162.780,2.479)(162.790,2.419)(162.800,2.451)(162.810,2.436)(162.820,2.411)(162.830,2.455)(162.840,2.474)(162.850,2.425)(162.860,2.457)(162.870,2.421)(162.880,2.444)(162.890,2.410)(162.900,2.468)(162.910,2.429)(162.920,2.417)(162.930,2.453)(162.940,2.468)(162.950,2.408)(162.960,2.449)(162.970,2.434)
(162.980,2.387)(162.990,2.431)(163.000,2.446)(163.010,2.397)(163.020,2.430)(163.030,2.394)(163.040,2.417)(163.050,2.383)(163.060,2.448)(163.070,2.432)(163.080,2.422)(163.090,2.458)(163.100,2.472)(163.110,2.412)(163.120,2.457)(163.130,2.442)(163.140,2.421)(163.150,2.465)(163.160,2.483)(163.170,2.434)(163.180,2.468)(163.190,2.432)(163.200,2.450)(163.210,2.416)(163.220,2.474)(163.230,2.435)(163.240,2.424)(163.250,2.460)(163.260,2.474)(163.270,2.414)
(163.280,2.457)(163.290,2.442)(163.300,2.424)(163.310,2.468)(163.320,2.486)(163.330,2.437)(163.340,2.471)(163.350,2.435)(163.360,2.457)(163.370,2.423)(163.380,2.481)(163.390,2.442)(163.400,2.429)(163.410,2.465)(163.420,2.479)(163.430,2.419)(163.440,2.453)(163.450,2.438)(163.460,2.415)(163.470,2.459)(163.480,2.476)(163.490,2.427)(163.500,2.460)(163.510,2.424)(163.520,2.447)(163.530,2.413)(163.540,2.481)(163.550,2.442)(163.560,2.430)(163.570,2.466)(163.580,2.478)(163.590,2.418)(163.600,2.460)
(162.600,2.515)(162.470,2.490)
(162.385,2.443)(162.395,2.469)(162.405,2.456)(162.415,2.422)(162.425,2.422)(162.435,2.449)(162.445,2.456)(162.455,2.432)(162.465,2.448)(162.475,2.476)(162.485,2.468)(162.495,2.433)(162.505,2.438)(162.515,2.454)(162.525,2.460)(162.535,2.414)(162.545,2.435)(162.555,2.461)(162.565,2.456)(162.575,2.422)(162.585,2.419)(162.595,2.446)(162.605,2.460)(162.615,2.436)(162.625,2.451)(162.635,2.479)(162.645,2.472)(162.655,2.437)(162.665,2.443)(162.675,2.459)
(162.685,2.473)(162.695,2.427)(162.705,2.446)(162.715,2.472)(162.725,2.465)(162.735,2.431)(162.745,2.427)(162.755,2.454)(162.765,2.462)(162.775,2.438)(162.785,2.448)(162.795,2.464)(162.805,2.457)(162.815,2.422)(162.825,2.425)(162.835,2.441)(162.845,2.458)(162.855,2.412)(162.865,2.431)(162.875,2.457)(162.885,2.451)(162.895,2.417)(162.905,2.413)(162.915,2.440)(162.925,2.449)(162.935,2.425)(162.945,2.437)(162.955,2.465)(162.965,2.455)(162.975,2.420)
(162.985,2.401)(162.995,2.417)(163.005,2.430)(163.015,2.384)(163.025,2.404)(163.035,2.430)(163.045,2.424)(163.055,2.390)(163.065,2.393)(163.075,2.440)(163.085,2.454)(163.095,2.430)(163.105,2.441)(163.115,2.469)(163.125,2.463)(163.135,2.428)(163.145,2.435)(163.155,2.451)(163.165,2.467)(163.175,2.421)(163.185,2.442)(163.195,2.468)(163.205,2.457)(163.215,2.423)(163.225,2.419)(163.235,2.446)(163.245,2.456)(163.255,2.432)(163.265,2.443)(163.275,2.471)
(163.285,2.463)(163.295,2.428)(163.305,2.438)(163.315,2.454)(163.325,2.470)(163.335,2.424)(163.345,2.445)(163.355,2.471)(163.365,2.464)(163.375,2.430)(163.385,2.426)(163.395,2.453)(163.405,2.461)(163.415,2.437)(163.425,2.448)(163.435,2.476)(163.445,2.459)(163.455,2.424)(163.465,2.429)(163.475,2.445)(163.485,2.460)(163.495,2.414)(163.505,2.434)(163.515,2.460)(163.525,2.454)(163.535,2.420)(163.545,2.426)(163.555,2.453)(163.565,2.462)(163.575,2.438)(163.585,2.447)(163.595,2.475)
};
\addplot[sys] coordinates {
(162.375,2.449)(162.40,2.445)(162.45,2.447)(162.50,2.446)(162.55,2.447)(162.60,2.448)(162.65,2.448)(162.70,2.448)(162.75,2.447)(162.80,2.446)(162.85,2.446)(162.90,2.445)(162.95,2.444)(163.00,2.445)(163.03,2.447)(163.06,2.445)(163.10,2.446)(163.15,2.446)(163.20,2.447)(163.25,2.447)(163.30,2.448)(163.35,2.448)(163.40,2.448)(163.45,2.447)(163.50,2.447)(163.55,2.448)(163.60,2.448)
};
\addplot[fit] coordinates {
(162.376,2.450)(162.386,2.448)(162.401,2.443)(162.411,2.445)(162.421,2.448)(162.431,2.443)(162.446,2.449)(162.461,2.452)(162.471,2.449)(162.487,2.452)(162.497,2.452)(162.507,2.447)(162.512,2.440)(162.527,2.440)(162.557,2.443)(162.593,2.444)(162.603,2.452)(162.617,2.455)(162.648,2.455)(162.688,2.452)(162.738,2.452)(162.784,2.452)(162.799,2.440)(162.814,2.436)(162.829,2.438)(162.849,2.437)(162.889,2.438)(162.930,2.439)(162.945,2.441)(162.960,2.438)
(162.975,2.416)(162.985,2.410)(163.010,2.410)(163.035,2.411)(163.055,2.411)(163.065,2.425)(163.075,2.443)(163.091,2.445)(163.141,2.446)(163.186,2.448)(163.201,2.444)(163.231,2.444)(163.251,2.447)(163.276,2.446)(163.302,2.449)(163.342,2.451)(163.393,2.451)(163.423,2.452)(163.438,2.443)(163.453,2.440)(163.493,2.440)(163.523,2.441)(163.534,2.451)(163.564,2.452)(163.599,2.449)
};
\node[lab] at (rel axis cs:0,0) {Spitzer Ch. 2};
\end{axis}
\node[rotate=90, anchor=base, font=\labfont, text=axcol] at (19.2pt,373.7pt) {Photoelectrons (\kern1pt×\kern2.5pt10\textsuperscript{6})};
\node[anchor=base, font=\labfont, text=axcol] at (265.7pt,4.8pt) {Time (BJD\_TDB - 2,457,000)};
\end{tikzpicture}
\end{document}
